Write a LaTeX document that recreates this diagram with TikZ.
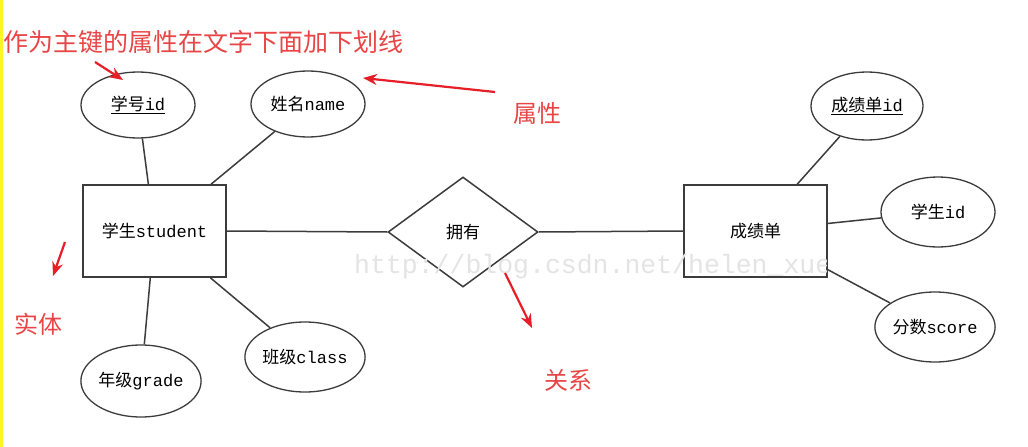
\documentclass[tikz,border=0pt]{standalone}
\usepackage{fontspec}
\usetikzlibrary{shapes.geometric,arrows.meta}
\newfontfamily\cjk{Noto Sans CJK SC}
\newfontfamily\mono{Liberation Mono}
\definecolor{redlab}{RGB}{232,70,70}
\definecolor{redarr}{RGB}{230,30,40}
\definecolor{edgec}{RGB}{60,60,60}
\definecolor{wmark}{RGB}{228,228,228}
\tikzset{
  attr/.style={ellipse,draw=edgec,line width=1.3pt,fill=white,inner sep=0pt,minimum width=114pt,minimum height=66pt,font=\cjk\fontsize{17}{17}\selectfont},
  entity/.style={rectangle,draw=edgec,line width=1.5pt,fill=white,inner sep=0pt,minimum width=143pt,minimum height=92pt,font=\cjk\fontsize{17}{17}\selectfont},
  rel/.style={diamond,draw=edgec,line width=1.5pt,fill=white,inner sep=0pt,minimum width=150pt,minimum height=110pt,font=\cjk\fontsize{17}{17}\selectfont},
  conn/.style={draw=edgec,line width=1.5pt},
  note/.style={text=redlab,font=\cjk\fontsize{24}{24}\selectfont,inner sep=0pt},
  redarrow/.style={draw=redarr,line width=2.2pt,-{Stealth[length=14pt,width=11pt]}}
}
\newcommand{\mn}[1]{{\mono #1}}
\begin{document}
\begin{tikzpicture}[x=1pt,y=-1pt]
\useasboundingbox (0,0) rectangle (1028,447);
\fill[white] (0,0) rectangle (1028,447);
\fill[yellow!85!white] (0,0) rectangle (3,447);

\node[entity] (stu) at (154.5,231) {学生\mn{student}};
\node[entity] (score) at (755.5,231) {成绩单};
\node[rel] (has) at (463,232) {拥有};
\node[attr] (sid) at (138,105) {\underline{学号\mn{id}}};
\node[attr] (sname) at (308,104) {姓名\mn{name}};
\node[attr,minimum width=118pt,minimum height=72pt] (sgrade) at (141,381) {年级\mn{grade}};
\node[attr,minimum width=120pt,minimum height=70pt] (sclass) at (305,357) {班级\mn{class}};
\node[attr,minimum width=112pt,minimum height=68pt] (scid) at (867,106) {\underline{成绩单\mn{id}}};
\node[attr,minimum width=114pt,minimum height=70pt] (ssid) at (938,212) {学生\mn{id}};
\node[attr,minimum width=120pt,minimum height=70pt] (sscore) at (935,327) {分数\mn{score}};

\draw[conn] (sid) -- (stu);
\draw[conn] (sname) -- (stu);
\draw[conn] (sgrade) -- (stu);
\draw[conn] (sclass) -- (stu);
\draw[conn] (stu.east) -- (has.west);
\draw[conn] (has.east) -- (score.west);
\draw[conn] (scid) -- (score);
\draw[conn] (ssid) -- (score);
\draw[conn] (sscore) -- (score);

% watermark
\begin{scope}
\clip (340,240) rectangle (826,295);
\node[anchor=base west,text=wmark,font=\mono\fontsize{26.5}{26.5}\selectfont,inner sep=0pt] (wm) at (354,273) {http://blog.csdn.net/helen\_xue};
\end{scope}

% annotations
\node[note,anchor=west,font=\cjk\fontsize{25}{25}\selectfont] (title) at (3,42) {作为主键的属性在文字下面加下划线};
\node[note] (lattr) at (537,113) {属性};
\node[note] (lent) at (38,324) {实体};
\node[note] (lrel) at (568,380) {关系};
\coordinate (a1s) at (95,62);
\coordinate (a1e) at (123,80);
\coordinate (a2s) at (495,92);
\coordinate (a2e) at (363,78);
\coordinate (a3s) at (65,242);
\coordinate (a3e) at (53,276);
\coordinate (a4s) at (505,273);
\coordinate (a4e) at (532,328);
\draw[redarrow] (a1s) -- (a1e);
\draw[redarrow] (a2s) -- (a2e);
\draw[redarrow] (a3s) -- (a3e);
\draw[redarrow] (a4s) -- (a4e);
\end{tikzpicture}
\end{document}
